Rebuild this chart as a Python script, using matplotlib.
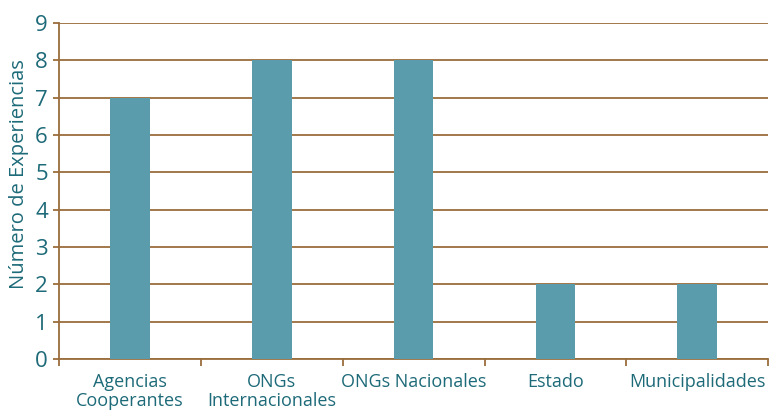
import numpy as np
import matplotlib.pyplot as plt
from matplotlib.ticker import FixedLocator, NullFormatter

categorias = ['Agencias\nCooperantes', 'ONGs\nInternacionales', 'ONGs Nacionales', 'Estado', 'Municipalidades']
valores = [7, 8, 8, 2, 2]

texto = '#1d6a78'
marron = '#9a6d3c'
barra = '#5a9bac'

plt.rcParams['font.family'] = ['Open Sans', 'DejaVu Sans']

fig = plt.figure(figsize=(7.82, 4.15), dpi=100)
ax = fig.add_axes([0.0754, 0.135, 0.907, 0.81])

x = np.arange(len(categorias))
ax.bar(x, valores, width=0.28, color=barra, zorder=3)

ax.set_xlim(-0.5, len(categorias) - 0.5)
ax.set_ylim(0, 9)
ax.set_yticks(range(10))
ax.yaxis.grid(True, color=marron, linewidth=1.3, zorder=1)

# ticks at category boundaries, labels at centres
ax.xaxis.set_major_locator(FixedLocator(np.arange(-0.5, len(categorias), 1.0)))
ax.xaxis.set_major_formatter(NullFormatter())
ax.xaxis.set_minor_locator(FixedLocator(x))
ax.set_xticklabels(categorias, minor=True, fontsize=13, color=texto, linespacing=1.05)
ax.tick_params(axis='x', which='minor', length=0, pad=10)
ax.tick_params(axis='x', which='major', length=5, color=marron, width=1.3)
ax.tick_params(axis='y', length=4, color=marron, width=1.3, labelsize=16, labelcolor=texto, pad=4)

for s in ['top', 'right']:
    ax.spines[s].set_visible(False)
for s in ['left', 'bottom']:
    ax.spines[s].set_color(marron)
    ax.spines[s].set_linewidth(1.3)

ax.set_ylabel('Número de Experiencias', fontsize=14.5, color=texto)
ax.yaxis.set_label_coords(-0.042, 0.55)

fig.savefig('out.png', dpi=100)
